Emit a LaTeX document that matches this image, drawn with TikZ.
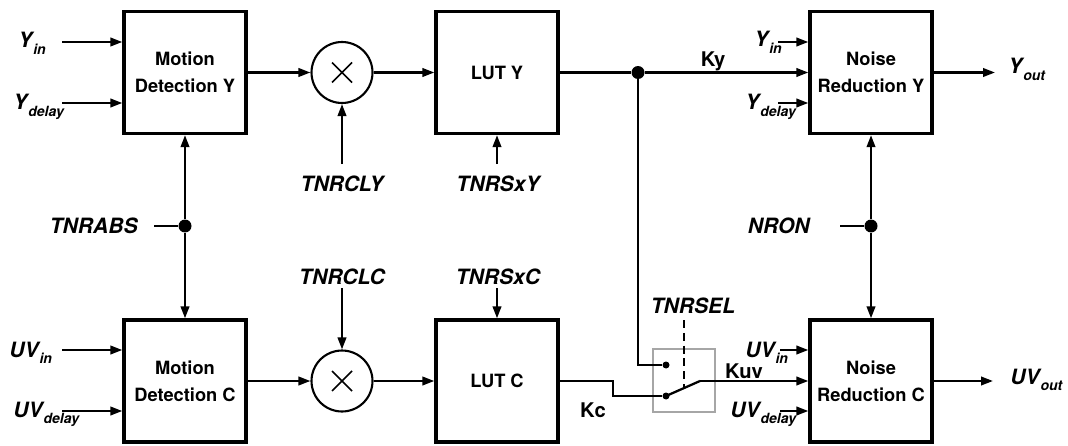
\documentclass[tikz,border=0pt]{standalone}
\usepackage{fontspec}
\setmainfont{TeX Gyre Heros}
\usetikzlibrary{shapes,arrows.meta,positioning}
\newcommand{\lsub}[1]{\kern0.5pt\raisebox{-3.5pt}{\fontsize{8}{8}\selectfont #1}}
\tikzstyle{blk}=[rectangle,draw=black,line width=1.9pt,minimum width=2.44cm,
  minimum height=2.44cm,align=center,font=\bfseries\fontsize{10.4}{15.5}\selectfont]
\tikzstyle{mul}=[circle,draw=black,line width=1.2pt,minimum size=1.22cm,inner sep=0pt,
  path picture={\draw[line width=0.9pt] (path picture bounding box.center) +(-10,-10) -- +(10,10)
    (path picture bounding box.center) +(-10,10) -- +(10,-10);}]
\tikzstyle{lbl}=[inner sep=0pt,font=\bfseries\itshape\fontsize{12}{14}\selectfont]
\tikzstyle{txt}=[inner sep=0pt,font=\bfseries\fontsize{11.5}{14}\selectfont]
\tikzstyle{dot}=[circle,fill=black,inner sep=0pt,minimum size=0.26cm]
\tikzstyle{cnt}=[circle,fill=black,inner sep=0pt,minimum size=0.14cm]
\tikzstyle{arr}=[-{Triangle[length=0.24cm,width=0.17cm]},line width=1.3pt]
\tikzstyle{wire}=[line width=1.3pt]
\tikzstyle{sel}=[line width=1pt,dash pattern=on 4.5pt off 2.8pt]
\begin{document}
\begin{tikzpicture}[x=0.02cm,y=-0.02cm]
    \useasboundingbox (0,0) rectangle (1068,446);
    % blocks
    \node [style=blk] (mdy) at (185,72.5) {Motion\\Detection Y};
    \node [style=blk] (mdc) at (185,381) {Motion\\Detection C};
    \node [style=mul] (mxy) at (342,72.5) {};
    \node [style=mul] (mxc) at (342,381) {};
    \node [style=blk] (luty) at (497,72.5) {LUT Y};
    \node [style=blk] (lutc) at (497,381) {LUT C};
    \node [style=blk] (nry) at (871,72.5) {Noise\\Reduction Y};
    \node [style=blk] (nrc) at (871,381) {Noise\\Reduction C};
    \node [draw=gray!70,line width=0.6pt,minimum width=1.24cm,minimum height=1.26cm] (swbox) at (684,380.5) {};
    % junctions
    \node [style=dot] (dabs) at (185,226) {};
    \node [style=dot] (dnr) at (871,226) {};
    \node [style=dot] (dky) at (638,72.5) {};
    \node [style=cnt] (sw1) at (666,365) {};
    \node [style=cnt] (sw2) at (666,396) {};
    % left inputs
    \node [style=lbl,anchor=base west] (yin) at (18,48) {Y\lsub{in}};
    \node [style=lbl,anchor=base west] (ydl) at (13,110) {Y\lsub{delay}};
    \node [style=lbl,anchor=base west] (uvin) at (9,357) {UV\lsub{in}};
    \node [style=lbl,anchor=base west] (uvdl) at (13,417) {UV\lsub{delay}};
    \coordinate (yins) at (62,42);
    \coordinate (ydls) at (62,103);
    \coordinate (uvins) at (62,350);
    \coordinate (uvdls) at (62,411);
    \draw [style=arr] (yins) -- (yins -| mdy.west);
    \draw [style=arr] (ydls) -- (ydls -| mdy.west);
    \draw [style=arr] (uvins) -- (uvins -| mdc.west);
    \draw [style=arr] (uvdls) -- (uvdls -| mdc.west);
    % TNRABS
    \node [style=lbl,anchor=base east] (abs) at (138,233) {TNRABS};
    \coordinate (absr) at (154,226);
    \draw [style=wire] (absr) -- (dabs);
    \draw [style=arr] (dabs) -- (mdy);
    \draw [style=arr] (dabs) -- (mdc);
    % multipliers and LUTs
    \draw [style=arr] (mdy) -- (mxy);
    \draw [style=arr] (mxy) -- (luty);
    \draw [style=arr] (mdc) -- (mxc);
    \draw [style=arr] (mxc) -- (lutc);
    \node [style=lbl,anchor=base] (cly) at (342,191) {TNRCLY};
    \node [style=lbl,anchor=base] (sxy) at (498,191) {TNRSxY};
    \node [style=lbl,anchor=base] (clc) at (342,284) {TNRCLC};
    \node [style=lbl,anchor=base] (sxc) at (498,284) {TNRSxC};
    \coordinate (clyt) at (342,164);
    \coordinate (sxyt) at (497,164);
    \coordinate (clcb) at (342,288);
    \coordinate (sxcb) at (497,288);
    \draw [style=arr] (clyt) -- (mxy);
    \draw [style=arr] (sxyt) -- (sxyt |- luty.south);
    \draw [style=arr] (clcb) -- (mxc);
    \draw [style=arr] (sxcb) -- (sxcb |- lutc.north);
    % Ky and switch
    \draw [style=wire] (luty) -- (dky);
    \draw [style=arr] (dky) -- (nry);
    \draw [style=wire] (dky) |- (sw1);
    \coordinate (kcb) at (613,381);
    \draw [style=wire] (lutc) -- (kcb) |- (sw2);
    \coordinate (swb) at (700,381);
    \draw [style=wire] (sw2.center) -- (swb);
    \draw [style=arr] (swb) -- (nrc);
    \coordinate (selt) at (684,320);
    \coordinate (selb) at (684,388);
    \draw [style=sel] (selt) -- (selb);
    \node [style=txt,anchor=base] (ky) at (713,67) {Ky};
    \node [style=txt,anchor=base] (kc) at (593,417) {Kc};
    \node [style=txt,anchor=base] (kuv) at (744,378) {Kuv};
    \node [style=lbl,anchor=base] (tsel) at (693,313) {TNRSEL};
    % NRON
    \node [style=lbl,anchor=base east] (nron) at (810,233) {NRON};
    \coordinate (nronr) at (840,226);
    \draw [style=wire] (nronr) -- (dnr);
    \draw [style=arr] (dnr) -- (nry);
    \draw [style=arr] (dnr) -- (nrc);
    % noise reduction inputs
    \node [style=lbl,anchor=base west] (nyin) at (754,47) {Y\lsub{in}};
    \node [style=lbl,anchor=base west] (nydl) at (745,110) {Y\lsub{delay}};
    \node [style=lbl,anchor=base west] (nuvin) at (745,357) {UV\lsub{in}};
    \node [style=lbl,anchor=base west] (nuvdl) at (730,417) {UV\lsub{delay}};
    \coordinate (nyins) at (778,42);
    \coordinate (nydls) at (778,103);
    \coordinate (nuvins) at (780,350);
    \coordinate (nuvdls) at (780,411);
    \draw [style=arr] (nyins) -- (nyins -| nry.west);
    \draw [style=arr] (nydls) -- (nydls -| nry.west);
    \draw [style=arr] (nuvins) -- (nuvins -| nrc.west);
    \draw [style=arr] (nuvdls) -- (nuvdls -| nrc.west);
    % outputs
    \coordinate (yout) at (995,72.5);
    \coordinate (uvout) at (993,381);
    \draw [style=arr] (nry) -- (yout);
    \draw [style=arr] (nrc) -- (uvout);
    \node [style=lbl,anchor=base west] (youtl) at (1008,74) {Y\lsub{out}};
    \node [style=lbl,anchor=base west] (uvoutl) at (1010,384) {UV\lsub{out}};
\end{tikzpicture}
\end{document}
